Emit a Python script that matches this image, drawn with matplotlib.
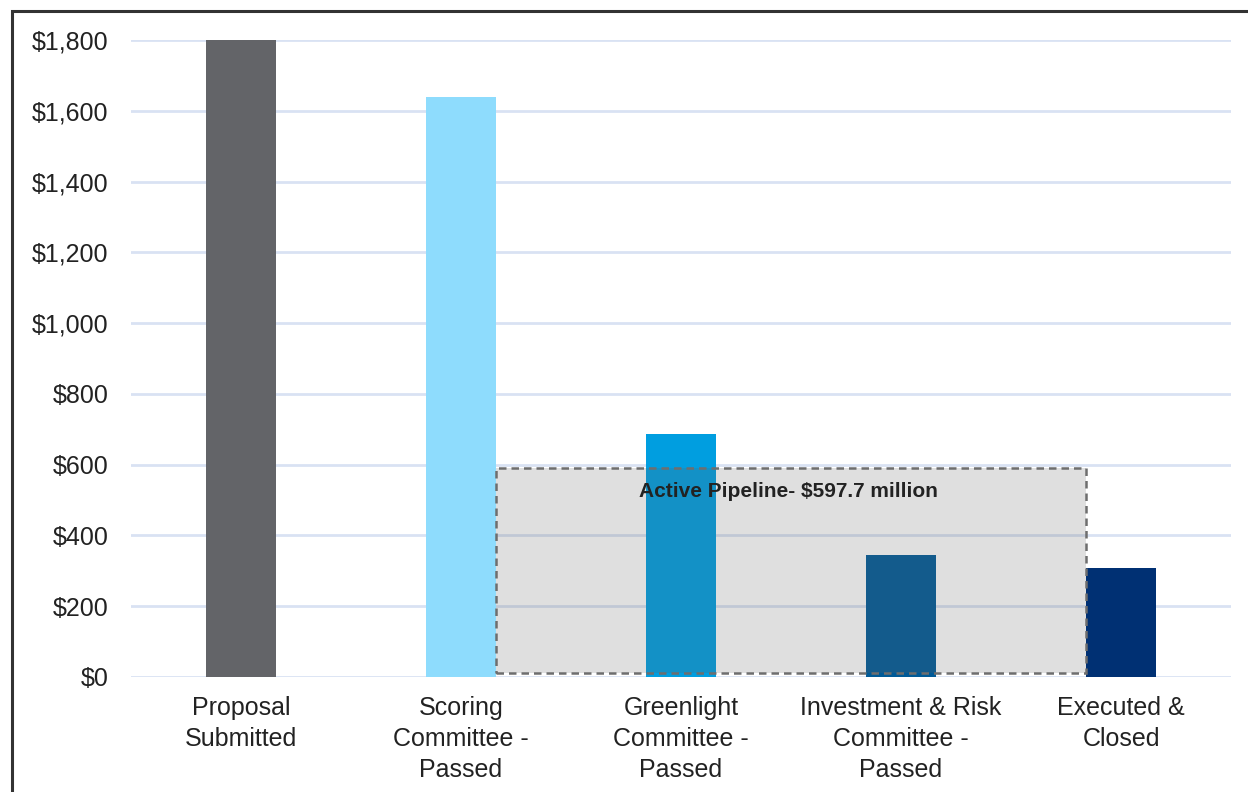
import matplotlib
matplotlib.use("Agg")
import matplotlib.pyplot as plt
from matplotlib.patches import Rectangle

categories = ["Proposal\nSubmitted", "Scoring\nCommittee -\nPassed", "Greenlight\nCommittee -\nPassed",
              "Investment & Risk\nCommittee -\nPassed", "Executed &\nClosed"]
values = [1800, 1638, 687, 345, 308]
colors = ["#636468", "#8EDCFD", "#009EE0", "#005A97", "#003073"]
yticks = [0, 200, 400, 600, 800, 1000, 1200, 1400, 1600, 1800]
pipeline_label = "Active Pipeline- $597.7 million"
pipeline_top = 590

plt.rcParams['font.family'] = ['Liberation Sans', 'DejaVu Sans']

fig = plt.figure(figsize=(12.48, 7.92), dpi=100)
ax = fig.add_axes([131/1248, 1-677/792, 1100/1248, 637/792])

x = list(range(len(categories)))
bw = 0.318
ax.bar(x, values, width=bw, color=colors, zorder=2)

# Active pipeline box
left = 1 + bw/2
right = 4 - bw/2
ax.add_patch(Rectangle((left, 10), right-left, pipeline_top-10, facecolor="#606060", alpha=0.2,
                       edgecolor="none", zorder=3))
ax.add_patch(Rectangle((left, 10), right-left, pipeline_top-10, facecolor="none",
                       edgecolor="#6E6E6E", linestyle=(0, (3, 2)), linewidth=1.8, zorder=4))
ax.text(2.49, 524, pipeline_label, ha="center", va="center", fontsize=15, fontweight="bold",
        color="#222222", zorder=5)

ax.set_xlim(-0.5, 4.5)
ax.set_ylim(0, 1800)
ax.set_yticks(yticks)
ax.set_yticklabels([f"${v:,}" for v in yticks], fontsize=18, color="#222222")
ax.set_xticks(x)
ax.set_xticklabels(categories, fontsize=18, color="#222222", linespacing=1.36)
ax.tick_params(axis="both", length=0)
ax.tick_params(axis="y", pad=16)
ax.tick_params(axis="x", pad=14)
ax.grid(axis="y", color="#D9E2F3", linewidth=2, zorder=0)
ax.set_axisbelow(True)
for s in ax.spines.values():
    s.set_visible(False)

# figure border
fig.patches.append(Rectangle((12/1248, -0.1), 1.2, 1-11/792+0.1, transform=fig.transFigure,
                             facecolor="none", edgecolor="#333333", linewidth=2.2))

fig.savefig("out.png", dpi=100)
